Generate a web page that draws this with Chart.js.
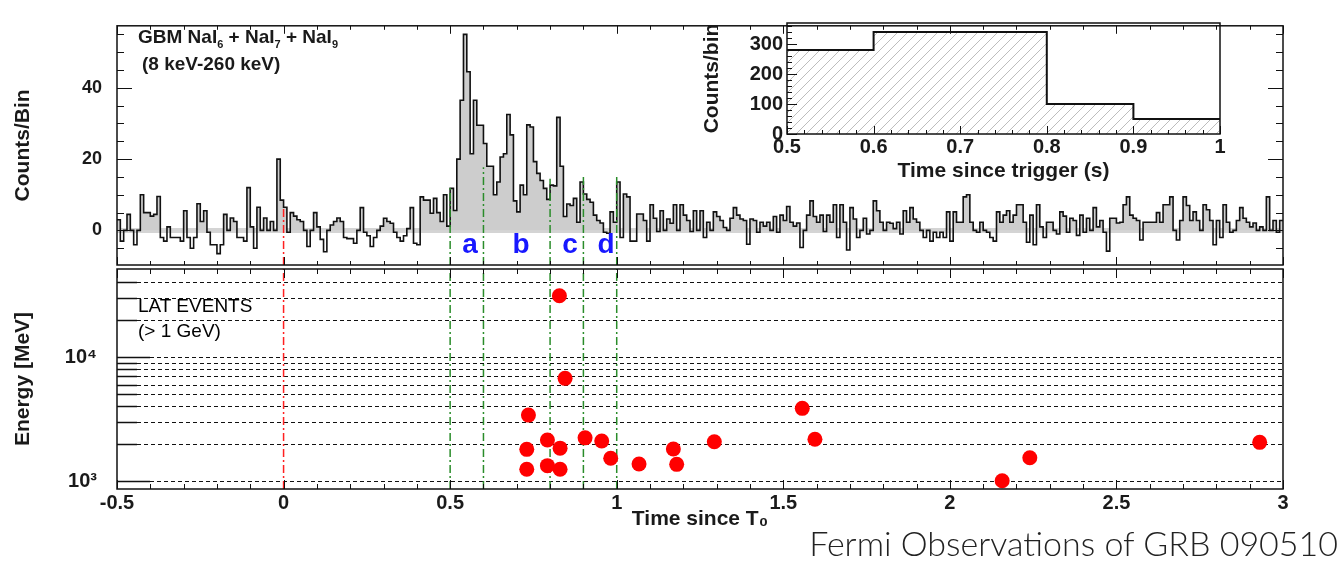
<!DOCTYPE html>
<html>
<head>
<meta charset="utf-8">
<title>Fermi Observations of GRB 090510</title>
<script src="https://cdn.jsdelivr.net/npm/chart.js@4.4.1/dist/chart.umd.min.js"></script>
<style>
  html, body { margin: 0; padding: 0; background: #fff; }
  #page { position: relative; width: 1342px; height: 561px; overflow: hidden; font-family: "Liberation Sans", Arial, sans-serif; color: #1a1a1a; }
  #page canvas { position: absolute; left: 0; top: 0; }
  #page #insetChart { left: 690px; }
  .txt { position: absolute; white-space: nowrap; line-height: 1; z-index: 5; }
  .sub { font-size: 11px; position: relative; top: 5px; }
  #footer { right: 4px; top: 526px; font-family: Lato, "Open Sans", sans-serif; font-weight: 300; font-size: 34px; color: #222; }
</style>
</head>
<body>
<div id="page">
  <canvas id="gbmChart" width="1342" height="561"></canvas>
  <canvas id="latChart" width="1342" height="561"></canvas>
  <canvas id="insetChart" width="560" height="200"></canvas>
  <div class="txt" style="left:138px;top:27px;font-size:19px;font-weight:bold">GBM NaI<span class="sub">6</span> + NaI<span class="sub">7</span> + NaI<span class="sub">9</span></div>
  <div class="txt" style="left:142px;top:54px;font-size:19px;font-weight:bold">(8 keV-260 keV)</div>
  <div class="txt" style="left:138px;top:296px;font-size:19px;color:#000">LAT EVENTS</div>
  <div class="txt" style="left:138px;top:321px;font-size:19px;color:#000">(&gt; 1 GeV)</div>
  <div class="txt" id="footer">Fermi Observations of GRB 090510</div>
</div>
<script>
// ------------------------------------------
// data
// ------------------------------------------
const binStart = -0.5;   // s, left edge of first GBM bin
const binWidth = 0.01;   // s
const gbmCounts = [
  // -0.50 .. -0.01
  3, -3, 0, 4.5, 0, -4, 0, 10, 5, 5,
  4, 4.5, 9.5, -2, -3, 1, -2, -2, -2, -3,
  5.5, -2, -5, -2, 7.5, 2.5, 5.5, -0.5, -4, -4,
  -6.5, -4, 4.5, 0, 3.5, 2.5, -2, -2, -3, 12,
  1, -5, 6.5, 0, 3.5, 0, 2.5, 0, 20, 8.5,
  // 0.00 .. 0.19
  6.5, -0.5, 5, 4, 3, 2.5, 0, -4.5, 0, 5,
  1, -2.5, -6, 0, 1.5, 2.5, 3.5, 2.5, -2, -2.3,
  // 0.20 .. 0.89
  -2.3, -3.6, 0, 6.4, -0.5, -1.5, -4.5, -2, 0, 1.2,
  3.4, 2.5, 2, -0.5, -2, -3, -1.5, 0.5, 6.4, -3.6,
  -4, 9.4, 8.5, 8.5, 4.8, 9, 5, 2.5, 10, 1.2,
  11.8, 5.6, 20, 36.5, 55, 44.5, 21.5, 36.5, 29.5, 29.5,
  24.4, 18, 18, 10, 13.6, 20.6, 21.5, 32.5, 26.8, 8.3,
  5.2, 12.7, 10, 29.6, 29, 19.3, 16, 14, 11.8, 8.7,
  12.7, 12.5, 31.7, 18, 3.9, 7.4, 7, 9, 2.3, 13.6,
  // 0.90 .. 0.99
  10.2, 8.7, 7.9, 4.3, 2.8, 2.1, -0.5, -0.8, 5.2, 2.3,
  // 1.00 .. 1.59
  13.6, -2, 10.2, 9.4, -3, -3, 4.6, 4.6, 2.8, -3,
  7.2, 3.4, -0.3, 5.5, 0, 3.2, 2, 7.2, 0, 7.2,
  4.3, 2.8, -0.3, 5.5, 0, 5.5, -2, 2.3, 0, 5.2,
  3.9, 2.8, 0.8, 0, 3.4, 6.4, 4.3, 3.2, 2.8, -3.9,
  3.2, 2.8, -0.5, 2.3, 1.2, 2.3, 0, 3.9, -0.5, 4.3,
  2.8, 6.7, 2.3, 1.2, 2.1, -4.8, 0, 4.3, 8.3, 3.9,
  // 1.60 .. 2.29
  2.3, 4.3, -0.3, 4.3, 2.3, 7.2, -2, 7.2, 2.3, -5.5,
  6.4, 3.2, -2, 0, 3.4, -1, 0, 8.3, 5.5, 2.3,
  0, 2.3, 2, 0.5, 2.3, -1, 5.5, 2.3, 6.4, 3.2,
  2.3, 0, -2, 0, -3, -0.5, -2, -0.5, -2, 5.2,
  -3, 5.2, 2.3, 2.3, 9.4, 10, 2.3, 0, -0.5, 2.3,
  0, -0.5, -2, -3, 5.2, 2.3, 4.3, 5.5, 2.3, 4.3,
  7.2, 7.2, 2.3, -3.3, 4.3, -4, 7.2, 1, -2, 2.3,
  // 2.30 .. 2.99
  2.3, 0, -1, 5.2, 4, -0.5, 3.4, 2.8, -1.4, 4.3,
  -0.5, 3.4, 0, 6.4, 1, 2.8, -0.5, -5.8, 3.4, 3.4,
  2.1, 2.3, 7.2, 9.4, 4.3, 3.4, 2.8, -2.7, 2.3, 2.3,
  2.3, 2.3, 5, 2.3, 7.2, 7.2, 9.4, 0, -2.7, 2.8,
  9.4, 7, 2.8, 5.2, 2.8, 0, 7.2, 5.8, 2.8, -4,
  2.8, -2, 7.2, 2.3, -0.5, 0, 2.8, 6.4, 3.4, 2.3,
  1, 2.1, 0, 1, 0, 9.4, 0, 2.8, -0.5, 2.8
];
const countTicks = [0, 20, 40];

const triggerTop = 6.6;                          // red T0 line, upper panel
const markerTimes = [0.5, 0.6, 0.8, 0.9, 1.0];   // interval boundaries
const markerTops = [12, 17.7, 14.5, 15.8, 15.8];
const regionLabels = ['a', 'b', 'c', 'd'];
const regionLabelTimes = [0.56, 0.713, 0.86, 0.968];
const regionLabelLevel = -6.3;

const latTimes    = [0.828, 0.845, 0.735, 0.730, 0.730, 0.792, 0.792, 0.830, 0.830, 0.905, 0.955,
                     0.982, 1.067, 1.170, 1.180, 1.293, 1.557, 1.595, 2.157, 2.240, 2.930];
const latEnergies = [31200, 6730, 3400, 1800, 1243, 2140, 1330, 1840, 1243, 2230, 2100,
                     1525, 1370, 1810, 1362, 2075, 3855, 2170, 1005, 1540, 2050];
const energyGrid = [1000, 2000, 3000, 4000, 5000, 6000, 7000, 8000, 9000, 10000, 20000, 30000, 40000];
const energyLabels = [1000, 10000];
const energyLabelText = ['10³', '10⁴'];
const timeLabels = [-0.5, 0, 0.5, 1, 1.5, 2, 2.5, 3];

const insetEdges = [0.5, 0.6, 0.8, 0.9, 1.0];
const insetCounts = [280, 340, 100, 50];
const insetCountTicks = [0, 100, 200, 300];
const insetTimeLabels = [0.5, 0.6, 0.7, 0.8, 0.9, 1];

// ------------------------------------------
// shared settings / helpers
// ------------------------------------------
const FONT = '"Liberation Sans", "DejaVu Sans", Arial, sans-serif';
Chart.defaults.font.family = FONT;
Chart.defaults.color = '#1a1a1a';

const common = {
  responsive: false,
  animation: false,
  events: [],
  plugins: { legend: { display: false }, tooltip: { enabled: false } }
};
const dashDot = [8, 3, 2, 3];
const RED = '#ff2020', GREEN = '#2a8c2a';
const countsMin = -9.7, countsMax = 57.4;
const energyMin = 862, energyMax = 51300;

function hline(ctx, y, x0, x1) { ctx.moveTo(x0, y); ctx.lineTo(x1, y); }
function vline(ctx, x, y0, y1) { ctx.moveTo(x, y0); ctx.lineTo(x, y1); }

function drawFrame(chart) {
  const { ctx, chartArea: a } = chart;
  ctx.save();
  ctx.strokeStyle = '#111';
  ctx.lineWidth = 1.5;
  ctx.strokeRect(a.left, a.top, a.right - a.left, a.bottom - a.top);
  ctx.restore();
}

// inner tick marks every 0.1 s, longer ones every 0.5 s
function drawTimeTicks(chart, minor, major) {
  const { ctx, chartArea: a, scales: { x } } = chart;
  ctx.save();
  ctx.strokeStyle = '#111';
  ctx.lineWidth = 1;
  ctx.beginPath();
  for (let k = -5; k <= 30; k++) {
    const px = Math.round(x.getPixelForValue(k / 10)) + 0.5;
    const len = k % 5 === 0 ? major : minor;
    vline(ctx, px, a.top, a.top + len);
    vline(ctx, px, a.bottom, a.bottom - len);
  }
  ctx.stroke();
  ctx.restore();
}

function markerLine(t, y0, y1, color) {
  return { data: [{ x: t, y: y0 }, { x: t, y: y1 }], borderColor: color, borderWidth: 1.5,
           borderDash: dashDot, pointRadius: 0, fill: false, order: 1 };
}

function hatchPattern() {
  const c = document.createElement('canvas');
  c.width = 10; c.height = 10;
  const g = c.getContext('2d');
  g.strokeStyle = '#bdbdbd';
  g.lineWidth = 1;
  g.beginPath();
  g.moveTo(-1, 11); g.lineTo(11, -1);
  g.moveTo(-6, 6); g.lineTo(6, -6);
  g.moveTo(4, 16); g.lineTo(16, 4);
  g.stroke();
  return g.createPattern(c, 'repeat');
}

// ------------------------------------------
// upper panel: GBM light curve
// ------------------------------------------
const histPoints = gbmCounts.map((c, i) => ({ x: binStart + i * binWidth, y: c }));
histPoints.push({ x: binStart + gbmCounts.length * binWidth, y: gbmCounts[gbmCounts.length - 1] });

new Chart(document.getElementById('gbmChart'), {
  type: 'line',
  data: {
    datasets: [
      { data: [{ x: binStart, y: 0 }, { x: 3, y: 0 }], borderColor: '#d4d4d4', borderWidth: 5, pointRadius: 0, fill: false, order: 5 },
      { data: histPoints, stepped: 'before', borderColor: '#111', borderWidth: 1.6, pointRadius: 0,
        fill: { target: 'origin', above: '#cdcdcd', below: 'rgba(0,0,0,0)' }, order: 4 },
      markerLine(0, countsMin, triggerTop, RED),
      ...markerTimes.map((t, i) => markerLine(t, countsMin, markerTops[i], GREEN))
    ]
  },
  options: {
    ...common,
    layout: { padding: { left: 0, top: 9, right: 59, bottom: 296 } },
    scales: {
      x: { type: 'linear', min: -0.5, max: 3, display: false },
      y: {
        min: countsMin, max: countsMax,
        grid: { display: false, drawTicks: false }, border: { display: false },
        afterFit: s => { s.width = 117; },
        afterBuildTicks: s => { s.ticks = countTicks.map(v => ({ value: v })); },
        ticks: { padding: 15, font: { size: 18, weight: 'bold' } },
        title: { display: true, text: 'Counts/Bin', font: { size: 21, weight: 'bold', lineHeight: 1.2 }, padding: { top: 11, bottom: 0 } }
      }
    }
  },
  plugins: [{
    id: 'gbmDecor',
    afterDatasetsDraw(chart) {
      const { ctx, chartArea: a, scales: { x, y } } = chart;
      drawTimeTicks(chart, 4, 8);
      ctx.save();
      ctx.strokeStyle = '#111';
      ctx.lineWidth = 1;
      ctx.beginPath();
      for (let v = -5; v <= 55; v += 5) {
        const py = Math.round(y.getPixelForValue(v)) + 0.5;
        const len = v % 20 === 0 ? 15 : 7;
        hline(ctx, py, a.left, a.left + len);
        hline(ctx, py, a.right, a.right - len);
      }
      ctx.stroke();
      ctx.fillStyle = '#1818ff';
      ctx.font = 'bold 28px ' + FONT;
      ctx.textAlign = 'center';
      ctx.textBaseline = 'alphabetic';
      regionLabels.forEach((s, i) => {
        ctx.fillText(s, x.getPixelForValue(regionLabelTimes[i]), y.getPixelForValue(regionLabelLevel));
      });
      ctx.restore();
      drawFrame(chart);
    }
  }]
});

// ------------------------------------------
// lower panel: LAT events > 1 GeV
// ------------------------------------------
new Chart(document.getElementById('latChart'), {
  type: 'line',
  data: {
    datasets: [
      { data: latTimes.map((t, i) => ({ x: t, y: latEnergies[i] })), showLine: false,
        pointRadius: 7.5, pointBackgroundColor: '#ff0000', pointBorderWidth: 0, order: 0 },
      markerLine(0, energyMin, energyMax, RED),
      ...markerTimes.map(t => markerLine(t, energyMin, energyMax, GREEN))
    ]
  },
  options: {
    ...common,
    layout: { padding: { left: 0, top: 269, right: 59, bottom: 0 } },
    scales: {
      x: {
        type: 'linear', min: -0.5, max: 3,
        grid: { display: false, drawTicks: false }, border: { display: false },
        afterFit: s => { s.height = 72; },
        afterBuildTicks: s => { s.ticks = timeLabels.map(v => ({ value: v })); },
        ticks: { autoSkip: false, maxRotation: 0, padding: 2, font: { size: 20, weight: 'bold' }, callback: v => String(v) },
        title: { display: true, text: 'Time since T₀', font: { size: 21, weight: 'bold', lineHeight: 1.2 }, padding: { top: 0, bottom: 29 } }
      },
      y: {
        type: 'logarithmic', min: energyMin, max: energyMax,
        grid: { display: false, drawTicks: false }, border: { display: false },
        afterFit: s => { s.width = 117; },
        afterBuildTicks: s => { s.ticks = energyLabels.map(v => ({ value: v })); },
        ticks: { padding: 20, font: { size: 20, weight: 'bold' }, callback: (v, i) => energyLabelText[i] },
        title: { display: true, text: 'Energy [MeV]', font: { size: 21, weight: 'bold', lineHeight: 1.2 }, padding: { top: 11, bottom: 0 } }
      }
    }
  },
  plugins: [{
    id: 'latDecor',
    beforeDatasetsDraw(chart) {
      const { ctx, chartArea: a, scales: { y } } = chart;
      ctx.save();
      ctx.strokeStyle = '#111';
      energyGrid.forEach(v => {
        const py = Math.round(y.getPixelForValue(v)) + 0.5;
        const len = energyLabels.includes(v) ? 33 : 20;
        ctx.setLineDash([]);
        ctx.lineWidth = 1.5;
        ctx.beginPath(); hline(ctx, py, a.left, a.left + len); ctx.stroke();
        ctx.setLineDash([4, 3]);
        ctx.lineWidth = 1;
        ctx.beginPath(); hline(ctx, py, a.left + len, a.right); ctx.stroke();
      });
      ctx.restore();
    },
    afterDatasetsDraw(chart) {
      drawTimeTicks(chart, 5, 9);
      drawFrame(chart);
    }
  }]
});

// ------------------------------------------
// inset: counts per 0.1 s bin
// ------------------------------------------
new Chart(document.getElementById('insetChart'), {
  type: 'line',
  data: {
    datasets: [{
      data: insetEdges.map((t, i) => ({ x: t, y: insetCounts[Math.min(i, insetCounts.length - 1)] })),
      stepped: 'before', borderColor: '#111', borderWidth: 2, pointRadius: 0,
      fill: 'origin', backgroundColor: hatchPattern()
    }]
  },
  options: {
    ...common,
    layout: { padding: { left: 0, top: 23, right: 30, bottom: 0 } },
    scales: {
      x: {
        type: 'linear', min: 0.5, max: 1,
        grid: { display: false, drawTicks: false }, border: { display: false },
        afterFit: s => { s.height = 66; },
        afterBuildTicks: s => { s.ticks = insetTimeLabels.map(v => ({ value: v })); },
        ticks: { autoSkip: false, maxRotation: 0, padding: 1, font: { size: 20, weight: 'bold' }, callback: v => String(v) },
        title: { display: true, text: 'Time since trigger (s)', font: { size: 21, weight: 'bold', lineHeight: 1.2 }, padding: { top: 0, bottom: 16 } }
      },
      y: {
        min: 0, max: 370,
        grid: { display: false, drawTicks: false }, border: { display: false },
        afterFit: s => { s.width = 97; },
        afterBuildTicks: s => { s.ticks = insetCountTicks.map(v => ({ value: v })); },
        ticks: { padding: 4, font: { size: 20, weight: 'bold' } },
        title: { display: true, text: 'Counts/bin', font: { size: 21, weight: 'bold', lineHeight: 1.2 }, padding: { top: 10, bottom: 0 } }
      }
    }
  },
  plugins: [{
    id: 'insetDecor',
    afterDatasetsDraw(chart) {
      const { ctx, chartArea: a, scales: { x, y } } = chart;
      ctx.save();
      ctx.strokeStyle = '#111';
      ctx.lineWidth = 1;
      ctx.beginPath();
      for (let v = 0; v <= 360; v += 20) {
        const py = Math.round(y.getPixelForValue(v)) + 0.5;
        hline(ctx, py, a.left, a.left + (v % 100 === 0 ? 10 : 5));
      }
      for (let k = 25; k <= 50; k++) {
        const px = Math.round(x.getPixelForValue(k / 50)) + 0.5;
        vline(ctx, px, a.bottom, a.bottom - (k % 5 === 0 ? 8 : 4));
      }
      ctx.stroke();
      ctx.restore();
      drawFrame(chart);
    }
  }]
});
</script>
</body>
</html>
